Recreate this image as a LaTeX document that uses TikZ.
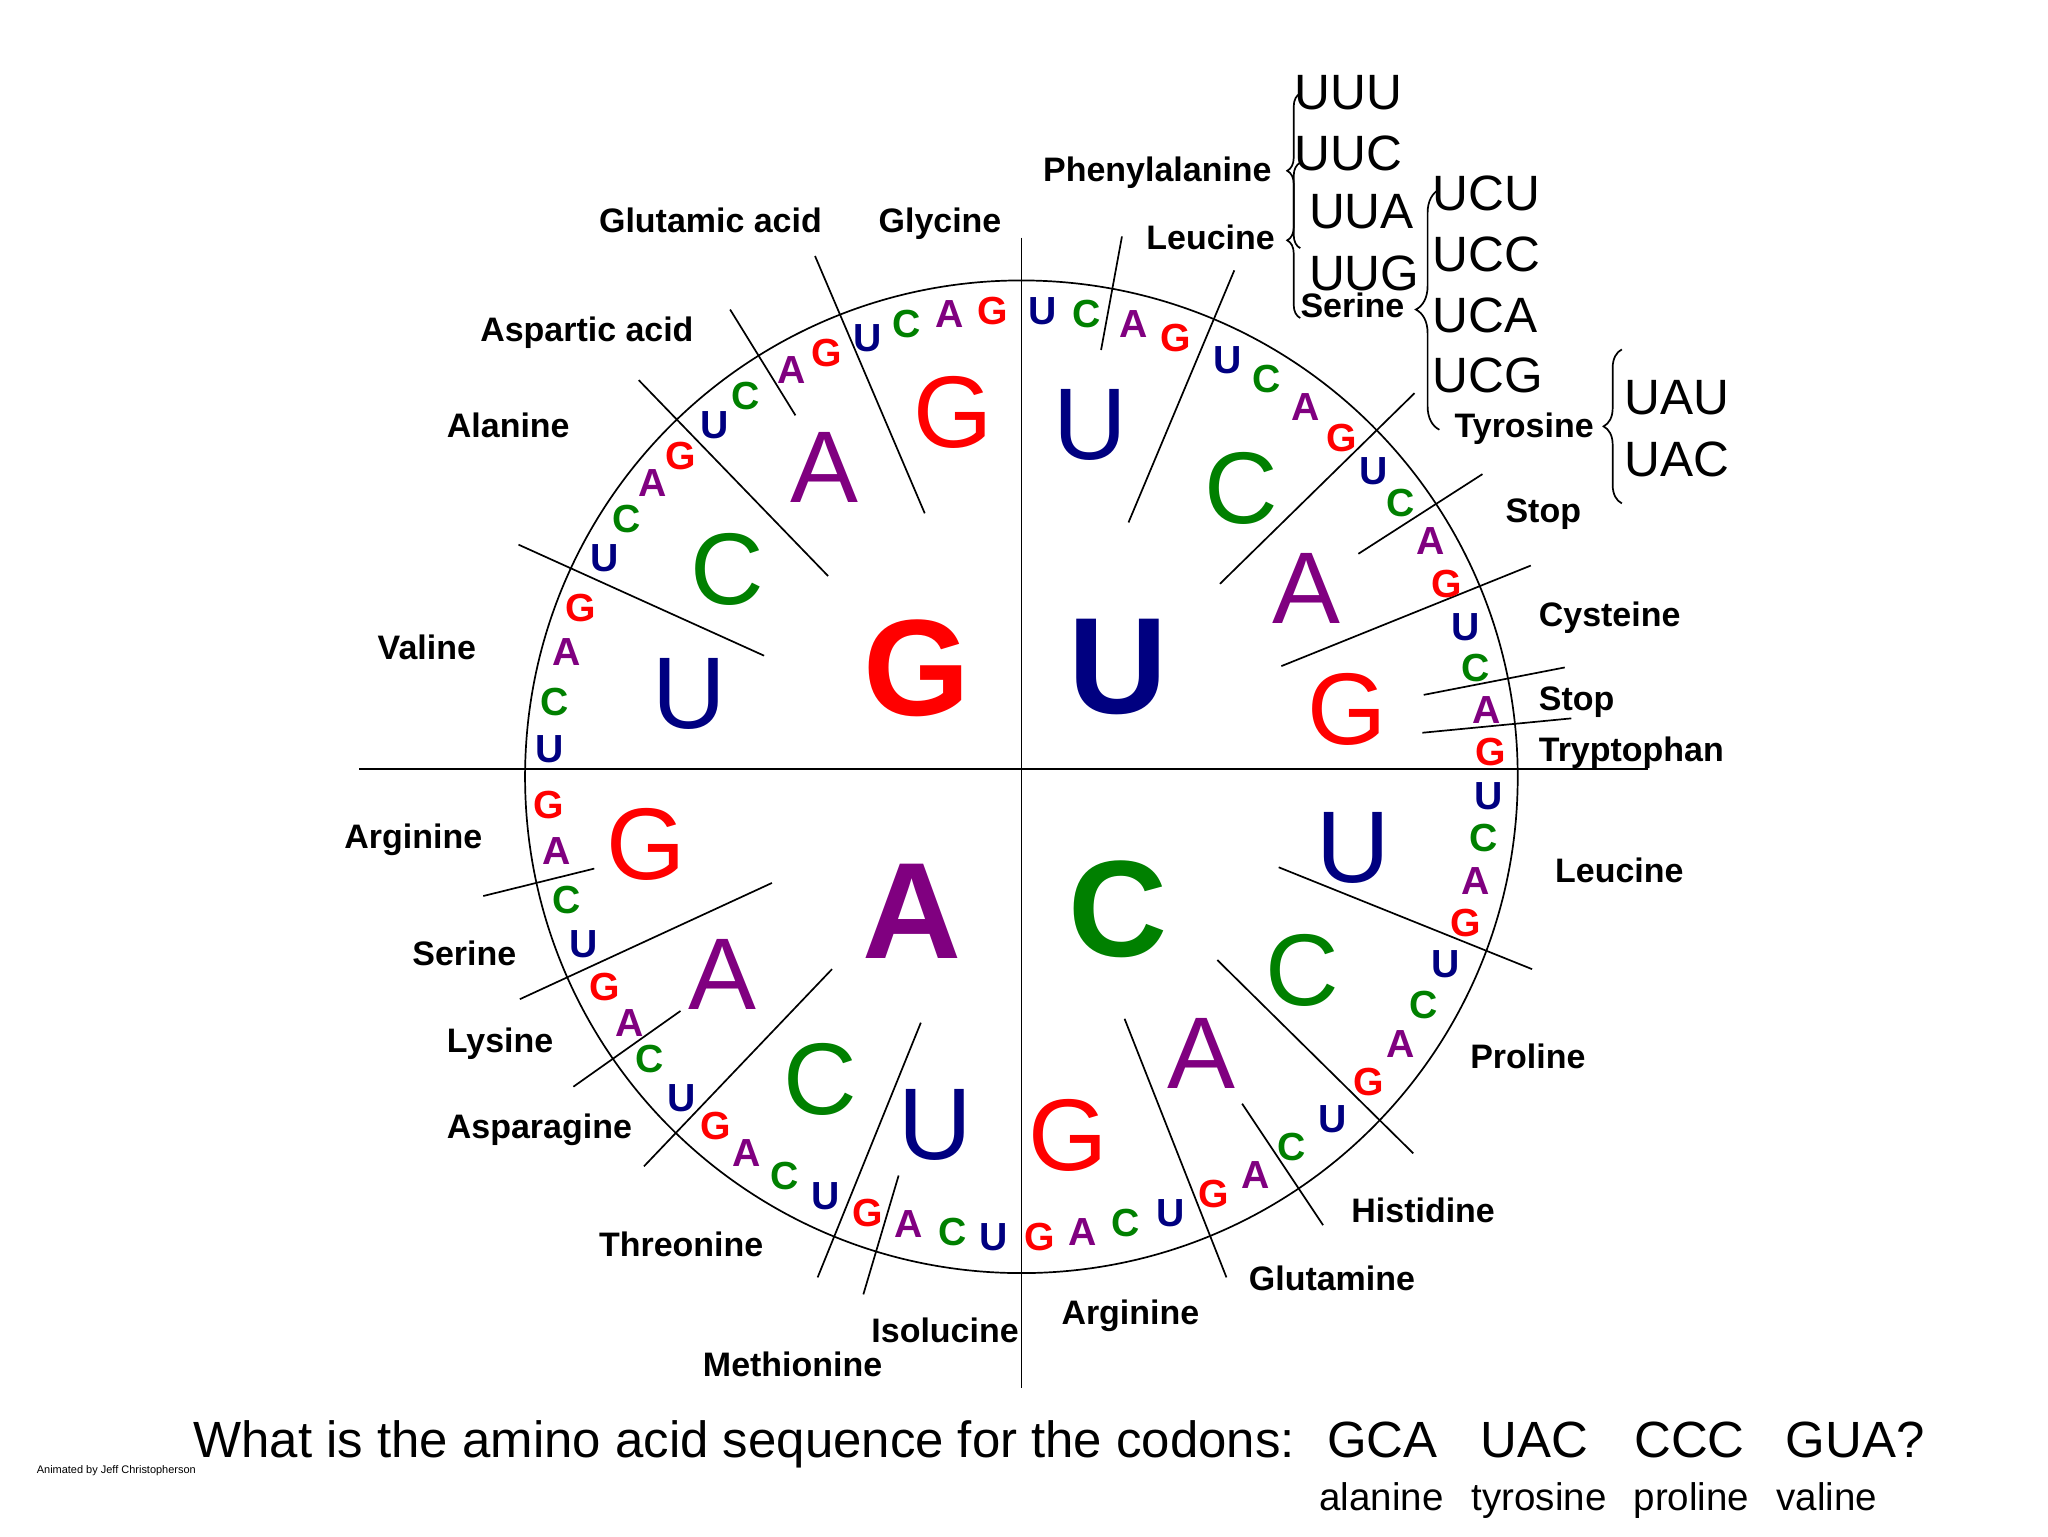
\documentclass[tikz,border=0pt]{standalone}
\usepackage{fontspec}
\setmainfont{Liberation Sans}
\usetikzlibrary{decorations.pathreplacing}
\definecolor{cU}{RGB}{0,0,128}
\definecolor{cC}{RGB}{0,128,0}
\definecolor{cA}{RGB}{128,0,128}
\definecolor{cG}{RGB}{255,0,0}
\begin{document}
\begin{tikzpicture}[x=1pt,y=-1pt,
  ln/.style={line width=1.3pt},
  bigl/.style={font=\fontsize{105}{105}\selectfont\bfseries,inner sep=0pt,text height=75pt,text depth=0pt},
  midl/.style={font=\fontsize{78}{78}\selectfont,inner sep=0pt,text height=56pt,text depth=0pt},
  outl/.style={font=\fontsize{30}{30}\selectfont\bfseries,inner sep=0pt,text height=21.5pt,text depth=0pt},
  lbl/.style={font=\fontsize{26}{26}\selectfont\bfseries,inner sep=0pt,text height=18.6pt,text depth=0pt,anchor=west},
  cod/.style={font=\fontsize{38}{38}\selectfont,inner sep=0pt,text height=27.2pt,text depth=0pt,anchor=west},
  qst/.style={font=\fontsize{39}{39}\selectfont,inner sep=0pt,text height=28pt,text depth=0pt,anchor=west},
  ans/.style={font=\fontsize{29.5}{29.5}\selectfont,inner sep=0pt,text height=21.1pt,text depth=0pt,anchor=west},
  brc/.style={decorate,decoration={brace,amplitude=#1},line width=1.3pt},
]
\useasboundingbox (0,0) rectangle (1568,1176);
\fill[white] (0,0) rectangle (1568,1176);

% axes and circle
\draw[ln] (275,589) -- (1262,589);
\draw[ln] (782,182) -- (782,1063);
\draw[ln] (782,594.7) circle[radius=380pt];

% divider lines
\foreach \ax/\ay/\bx/\by in {
  864/400/945/207, 934/447/1083/301, 981/510/1172/433,
  979/664/1173/742, 932/735/1082/883, 861/780/939/978,
  705/783/626/978, 637/742/493/893, 591/676/398/765,
  585/502/397/417, 634/441/489/291, 708/393/624/196,
  843/268/859/181, 1040/424/1135/363, 1090/532/1198/511, 1089/561/1203/550,
  951/845/1013/938, 688/900/661/991, 521/774/439/832, 455/665/370/686, 609/318/559/237}
  {\draw[ln] (\ax,\ay) -- (\bx,\by);}

% centre letters
\node[bigl,text=cU] (cu) at (856,509) {U};
\node[bigl,text=cC] (cc) at (856,695) {C};
\node[bigl,text=cA] (ca) at (698,696) {A};
\node[bigl,text=cG] (cg) at (702,510) {G};

% middle ring letters
\foreach \x/\y/\l [count=\i] in {
  835/323.5/U, 950/373/C, 1000.5/449/A, 1031/542/G,
  1036/648/U, 997/742/C, 920/805/A, 818/868/G,
  716/860/U, 628/825/C, 553/745/A, 495/645.7/G,
  528/530/U, 557/435/C, 631/357/A, 730/314.6/G}
  {\node[midl,text=c\l] (m\i) at (\x,\y) {\l};}

% outer ring letters
\foreach \x/\y/\l [count=\i] in {
  798/238/U, 832/240/C, 868/248/A, 900/258/G,
  940/275/U, 970/290/C, 1000/311/A, 1027/335/G,
  1052/360/U, 1072/385/C, 1095/414/A, 1108/447/G,
  1122/480/U, 1130/511/C, 1138/543/A, 1141/575/G,
  1140/609/U, 1136/641/C, 1130/674/A, 1122/706/G,
  1107/738/U, 1090/769/C, 1072/799/A, 1048/828/G,
  1020/856/U, 989/878/C, 961/899/A, 929/914/G,
  896/928/U, 862/936/C, 829/943/A, 796/947/G,
  761/947/U, 729/943/C, 696/937/A, 664/928/G,
  632/915/U, 601/900/C, 572/882/A, 548/862/G,
  522/840/U, 497/810/C, 482/783/A, 463/755/G,
  447/722/U, 434/689/C, 426/651/A, 420/616/G,
  421/573/U, 425/537/C, 434/499/A, 445/465/G,
  463/427/U, 480/397/C, 500/369/A, 521/349/G,
  547/325/U, 571/303/C, 606/283/A, 633/270/G,
  664/258/U, 694/248/C, 727/240/A, 760/238/G}
  {\node[outl,text=c\l] (o\i) at (\x,\y) {\l};}

% amino acid labels
\node[lbl] (l1) at (458.5,169) {Glutamic acid};
\node[lbl] (l2) at (672.5,169) {Glycine};
\node[lbl] (l3) at (798.5,130) {Phenylalanine};
\node[lbl] (l4) at (877.5,182) {Leucine};
\node[lbl] (l5) at (995.5,234) {Serine};
\node[lbl] (l6) at (1113.5,325.5) {Tyrosine};
\node[lbl] (l7) at (1152.5,391) {Stop};
\node[lbl] (l8) at (1178,470) {Cysteine};
\node[lbl] (l9) at (1178,534.5) {Stop};
\node[lbl] (l10) at (1178,574) {Tryptophan};
\node[lbl] (l11) at (1190.5,666) {Leucine};
\node[lbl] (l12) at (1125.5,809) {Proline};
\node[lbl] (l13) at (1034.5,927) {Histidine};
\node[lbl] (l14) at (956,979) {Glutamine};
\node[lbl] (l15) at (812.5,1005) {Arginine};
\node[lbl] (l16) at (667,1018.5) {Isolucine};
\node[lbl] (l17) at (538,1044.5) {Methionine};
\node[lbl] (l18) at (458.5,953) {Threonine};
\node[lbl] (l19) at (342,862) {Asparagine};
\node[lbl] (l20) at (342,796.6) {Lysine};
\node[lbl] (l21) at (315.5,730) {Serine};
\node[lbl] (l22) at (263.5,640) {Arginine};
\node[lbl] (l23) at (289,496) {Valine};
\node[lbl] (l24) at (342,326) {Alanine};
\node[lbl] (l25) at (367.5,252.5) {Aspartic acid};

% codon lists
\node[cod] (k1) at (991,70) {UUU};
\node[cod] (k2) at (991,117) {UUC};
\node[cod] (k3) at (1002,161.5) {UUA};
\node[cod] (k4) at (1002,209) {UUG};
\node[cod] (k5) at (1096.5,147.5) {UCU};
\node[cod] (k6) at (1096.5,194) {UCC};
\node[cod] (k7) at (1096.5,241) {UCA};
\node[cod] (k8) at (1096.5,287) {UCG};
\node[cod] (k9) at (1243.5,303.6) {UAU};
\node[cod] (k10) at (1243.5,351) {UAC};

% braces
\draw[brc=10pt] (995.5,190) -- (995.5,71.5);
\draw[brc=10pt] (995.5,243.5) -- (995.5,124.5);
\draw[brc=18pt] (1102,329) -- (1102,145);
\draw[brc=14pt] (1241.7,385.4) -- (1241.7,267.5);

% question
\node[qst] (q0) at (148,1102) {What is the amino acid sequence for the codons:};
\node[qst] (q1) at (1016,1102) {GCA};
\node[qst] (q2) at (1133.5,1102) {UAC};
\node[qst] (q3) at (1251,1102) {CCC};
\node[qst] (q4) at (1367,1102) {GUA?};
\node[ans] (a1) at (1010,1145.7) {alanine};
\node[ans] (a2) at (1126.5,1145.7) {tyrosine};
\node[ans] (a3) at (1250.5,1145.7) {proline};
\node[ans] (a4) at (1360,1145.7) {valine};
\node[font=\fontsize{8.4}{8.4}\selectfont,inner sep=0pt,anchor=west] (cr) at (28,1126) {Animated by Jeff Christopherson};
\end{tikzpicture}
\end{document}
